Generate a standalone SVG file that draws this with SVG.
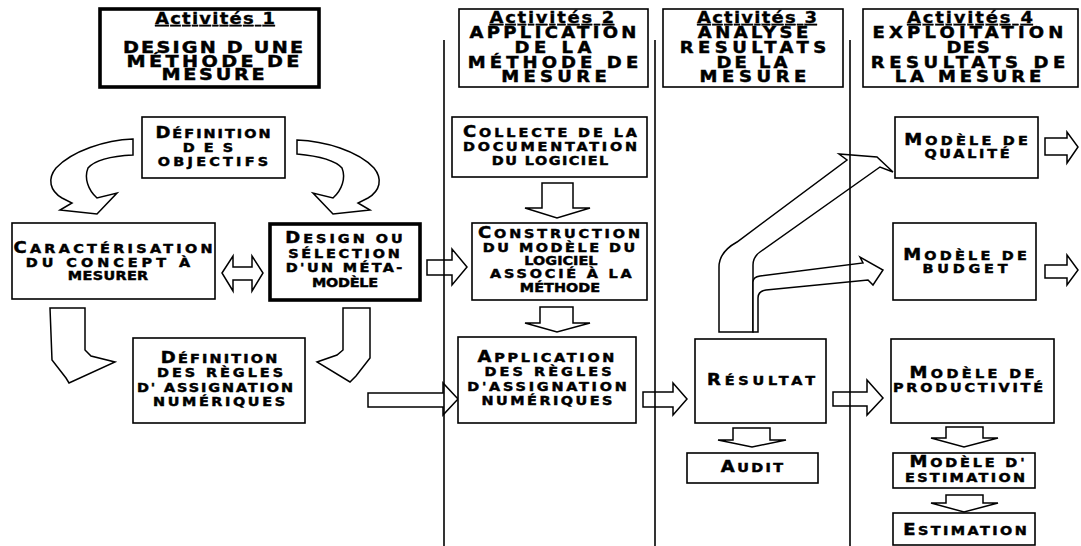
<svg xmlns="http://www.w3.org/2000/svg" width="1081" height="546" viewBox="0 0 1081 546">
<style>
.box{fill:#fff;stroke:#000;stroke-width:1.6}
.thick{stroke-width:3.6}
.arr{fill:#fff;stroke:#000;stroke-width:1.5;stroke-linejoin:miter}
.sep{stroke:#000;stroke-width:1.6}
text{font-family:"DejaVu Sans","Liberation Sans",Arial,sans-serif;font-weight:bold;fill:#000;text-anchor:middle;stroke:#000;stroke-width:0.45;transform-box:fill-box;transform-origin:center;transform:scaleX(1.2)}
.h1{font-size:16px}
.h{font-size:15px}
.t{font-size:15px;text-decoration:underline;stroke-width:0.3}
.n{font-size:15px}
.s{font-size:12px}
</style>
<rect width="1081" height="546" fill="#fff"/>

<!-- block arrows between steps -->
<g id="connectors">
  <!-- objectives -> characterisation (curved) -->
  <path id="arc-left" class="arr" d="M133,139 C105,140 72,151 56,168 C47,179 50,191 62,198 L72,203 L60,210 L97,214 L117,193 L97,198 C88,190 84,178 88,168 C95,160 112,156 133,155 Z"/>
  <!-- objectives -> meta-model (curved, mirrored) -->
  <path id="arc-right" class="arr" transform="translate(430,0) scale(-1,1)" d="M133,140 C105,141 72,151 56,168 C47,179 50,191 62,198 L72,203 L60,210 L97,214 L117,193 L97,198 C88,190 84,178 88,168 C95,160 112,156 133,154 Z"/>
  <!-- characterisation <-> meta-model -->
  <path class="arr" d="M222,273 L233,256 L233,267 L252,267 L252,256 L263,273 L252,291 L252,280 L233,280 L233,291 Z"/>
  <!-- characterisation -> numeric rules -->
  <path class="arr" d="M50,308 L85,308 L85,350 L91,356 L115,362 L69,383 L66,378 L52,360 Z"/>
  <!-- meta-model -> numeric rules -->
  <path class="arr" d="M343,308 L370,308 L370,358 L356,376 L350,382 L317,362 L337,355 L343,350 Z"/>
  <!-- meta-model -> software model construction -->
  <path class="arr" d="M427,260 L452,260 L452,249 L467,267 L452,285 L452,275 L427,275 Z"/>
  <!-- numeric rules -> application -->
  <path class="arr" d="M368,393 L443,393 L443,383 L458,399 L443,415 L443,407 L368,407 Z"/>
  <!-- documentation -> construction -->
  <path class="arr" d="M542,183 L573,183 L573,208 L590,208 L557,218 L525,208 L542,208 Z"/>
  <!-- construction -> application -->
  <path class="arr" d="M540,307 L573,307 L573,323 L590,323 L557,332 L525,323 L540,323 Z"/>
  <!-- application -> result -->
  <path class="arr" d="M643,392 L673,392 L673,383 L687,399 L673,415 L673,407 L643,407 Z"/>
  <!-- result -> audit -->
  <path class="arr" d="M733,428 L770,428 L770,440 L786,440 L752,447 L718,440 L733,440 Z"/>
  <!-- result -> quality model -->
  <path class="arr" d="M719,332 L719,267 Q719,252 737,242 L847,160 L839,154 L877,157 L893,172 L880,167 L760,252 Q753,257 753,265 L753,332 Z"/>
  <!-- result -> budget model -->
  <path class="arr" d="M753,332 L753,282 Q753,277 760,276 L863,263 L860,257 L883,270 L873,285 L868,280 L766,290 Q758,291 758,298 L758,332 Z"/>
  <!-- result -> productivity model -->
  <path class="arr" d="M833,392 L867,392 L867,380 L883,398 L867,415 L867,406 L833,406 Z"/>
  <!-- productivity -> estimation model -->
  <path class="arr" d="M946,427 L983,427 L983,438 L998,438 L964,447 L931,438 L946,438 Z"/>
  <!-- estimation model -> estimation -->
  <path class="arr" d="M946,495 L983,495 L983,503 L998,503 L964,512 L931,503 L946,503 Z"/>
  <!-- outputs of the quality and budget models -->
  <path class="arr" d="M1045,138 L1067,138 L1067,132 L1078,147 L1067,163 L1067,155 L1045,155 Z"/>
  <path class="arr" d="M1045,265 L1067,265 L1067,255 L1078,270 L1067,285 L1067,278 L1045,278 Z"/>
</g>

<!-- column separators -->
<g id="separators">
  <line class="sep" x1="444" y1="40" x2="444" y2="546"/>
  <line class="sep" x1="655" y1="40" x2="655" y2="546"/>
  <line class="sep" x1="850" y1="40" x2="850" y2="546"/>
</g>

<!-- column headers -->
<g id="hdr1">
  <rect class="box thick" x="100" y="9" width="219" height="78"/>
  <text class="t" x="215" y="24" textLength="100">Activités 1</text>
  <text class="h1" x="213" y="53" textLength="150">DESIGN D UNE</text>
  <text class="h1" x="213" y="67" textLength="144">MÉTHODE DE</text>
  <text class="h1" x="213" y="80" textLength="86">MESURE</text>
</g>
<g id="hdr2">
  <rect class="box" x="459" y="9" width="189" height="78"/>
  <text class="t" x="552" y="23" textLength="104">Activités 2</text>
  <text class="h" x="553" y="38" textLength="139">APPLICATION</text>
  <text class="h" x="553" y="53" textLength="64">DE LA</text>
  <text class="h" x="553" y="68" textLength="142">MÉTHODE DE</text>
  <text class="h" x="554" y="82" textLength="88">MESURE</text>
</g>
<g id="hdr3">
  <rect class="box" x="663" y="9" width="180" height="78"/>
  <text class="t" x="757" y="23" textLength="100">Activités 3</text>
  <text class="h" x="753" y="38" textLength="92">ANALYSE</text>
  <text class="h" x="753" y="53" textLength="122">RESULTATS</text>
  <text class="h" x="752" y="68" textLength="59">DE LA</text>
  <text class="h" x="753" y="82" textLength="89">MESURE</text>
</g>
<g id="hdr4">
  <rect class="box" x="863" y="9" width="215" height="78"/>
  <text class="t" x="970" y="23" textLength="105">Activités 4</text>
  <text class="h" x="968" y="38" textLength="159">EXPLOITATION</text>
  <text class="h" x="968" y="53" textLength="36">DES</text>
  <text class="h" x="968" y="68" textLength="162">RESULTATS DE</text>
  <text class="h" x="968" y="82" textLength="122">LA MESURE</text>
</g>

<!-- activity 1 -->
<g id="objectifs">
  <rect class="box" x="142" y="117" width="143" height="61"/>
  <text class="n" x="213" y="138" textLength="96">D<tspan class="s">ÉFINITION</tspan></text>
  <text class="n s" x="208" y="152" textLength="42">DES</text>
  <text class="n s" x="213" y="166" textLength="92">OBJECTIFS</text>
</g>
<g id="caracterisation">
  <rect class="box" x="12" y="223" width="203" height="76"/>
  <text class="n" x="113" y="253" textLength="166">C<tspan class="s">ARACTÉRISATION</tspan></text>
  <text class="n s" x="108" y="267" textLength="137">DU CONCEPT À</text>
  <text class="n s" x="108" y="280" textLength="67">MESURER</text>
</g>
<g id="metamodele">
  <rect class="box thick" x="270" y="224" width="150" height="76"/>
  <text class="n" x="344" y="243" textLength="98">D<tspan class="s">ESIGN OU</tspan></text>
  <text class="n s" x="344" y="258" textLength="93">SÉLECTION</text>
  <text class="n s" x="344" y="272" textLength="97">D'UN MÉTA-</text>
  <text class="n s" x="345" y="287" textLength="55">MODÈLE</text>
</g>
<g id="regles">
  <rect class="box" x="133" y="338" width="172" height="85"/>
  <text class="n" x="219" y="363" textLength="97">D<tspan class="s">ÉFINITION</tspan></text>
  <text class="n s" x="220" y="377" textLength="105">DES RÈGLES</text>
  <text class="n s" x="215" y="392" textLength="130">D' ASSIGNATION</text>
  <text class="n s" x="219" y="406" textLength="110">NUMÉRIQUES</text>
</g>

<!-- activity 2 -->
<g id="collecte">
  <rect class="box" x="452" y="117" width="195" height="60"/>
  <text class="n" x="550" y="137" textLength="145">C<tspan class="s">OLLECTE DE LA</tspan></text>
  <text class="n s" x="550" y="151" textLength="145">DOCUMENTATION</text>
  <text class="n s" x="550" y="165" textLength="97">DU LOGICIEL</text>
</g>
<g id="construction">
  <rect class="box" x="472" y="223" width="175" height="77"/>
  <text class="n" x="559" y="238" textLength="135">C<tspan class="s">ONSTRUCTION</tspan></text>
  <text class="n s" x="559" y="252" textLength="127">DU MODÈLE DU</text>
  <text class="n s" x="561" y="265" textLength="61">LOGICIEL</text>
  <text class="n s" x="561" y="278" textLength="118">ASSOCIÉ À LA</text>
  <text class="n s" x="560" y="292" textLength="67">MÉTHODE</text>
</g>
<g id="application">
  <rect class="box" x="458" y="337" width="178" height="86"/>
  <text class="n" x="546" y="362" textLength="114">A<tspan class="s">PPLICATION</tspan></text>
  <text class="n s" x="548" y="376" textLength="106">DES RÈGLES</text>
  <text class="n s" x="547" y="391" textLength="133">D'ASSIGNATION</text>
  <text class="n s" x="547" y="405" textLength="109">NUMÉRIQUES</text>
</g>

<!-- activity 3 -->
<g id="resultat">
  <rect class="box" x="695" y="339" width="131" height="84"/>
  <text class="n" x="761" y="385" textLength="90">R<tspan class="s">ÉSULTAT</tspan></text>
</g>
<g id="audit">
  <rect class="box" x="687" y="453" width="131" height="30"/>
  <text class="n" x="752" y="472" textLength="52">A<tspan class="s">UDIT</tspan></text>
</g>

<!-- activity 4 -->
<g id="qualite">
  <rect class="box" x="895" y="117" width="143" height="61"/>
  <text class="n" x="966" y="145" textLength="103">M<tspan class="s">ODÈLE DE</tspan></text>
  <text class="n s" x="967" y="158" textLength="71">QUALITÉ</text>
</g>
<g id="budget">
  <rect class="box" x="893" y="223" width="143" height="77"/>
  <text class="n" x="965" y="260" textLength="103">M<tspan class="s">ODÈLE DE</tspan></text>
  <text class="n s" x="965" y="273" textLength="71">BUDGET</text>
</g>
<g id="productivite">
  <rect class="box" x="891" y="339" width="163" height="84"/>
  <text class="n" x="972" y="378" textLength="104">M<tspan class="s">ODÈLE DE</tspan></text>
  <text class="n s" x="968" y="392" textLength="125">PRODUCTIVITÉ</text>
</g>
<g id="modele-estimation">
  <rect class="box" x="893" y="453" width="142" height="35"/>
  <text class="n" x="967" y="467" textLength="96">M<tspan class="s">ODÈLE D'</tspan></text>
  <text class="n s" x="965" y="482" textLength="100">ESTIMATION</text>
</g>
<g id="estimation">
  <rect class="box" x="893" y="513" width="142" height="32"/>
  <text class="n" x="965" y="535" textLength="103">E<tspan class="s">STIMATION</tspan></text>
</g>
</svg>
